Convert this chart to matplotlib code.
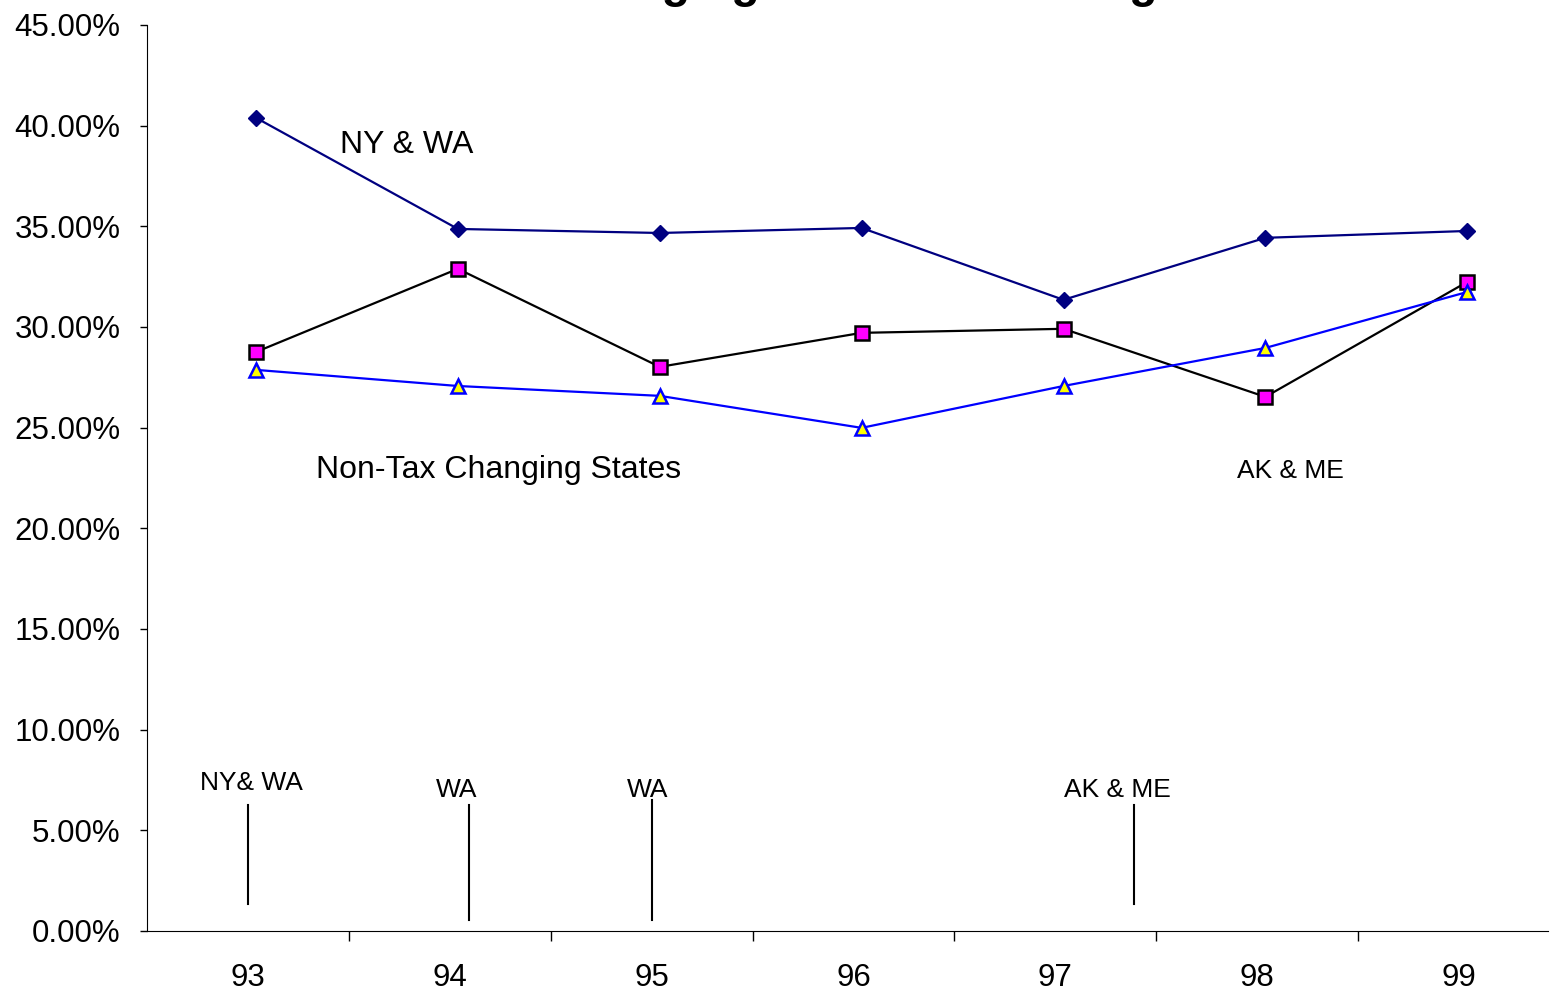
import numpy as np
import matplotlib
matplotlib.use("Agg")
import matplotlib.pyplot as plt
from matplotlib.ticker import PercentFormatter

plt.rcParams['font.family'] = ['Liberation Sans', 'DejaVu Sans']

anos = ['93', '94', '95', '96', '97', '98', '99']
ny_wa = [40.39, 34.87, 34.67, 34.92, 31.35, 34.43, 34.77]
ak_me = [28.76, 32.89, 28.02, 29.71, 29.91, 26.53, 32.24]
nao_mudaram = [27.87, 27.07, 26.58, 24.99, 27.07, 28.96, 31.74]

# mudancas de imposto marcadas em baixo: (posicao, texto)
mudancas_txt = ['NY& WA', 'WA', 'WA', 'AK & ME']
mudancas_x = [-0.04, 1.054, 1.96, 4.35]

fig = plt.figure(figsize=(15.5, 9.92), dpi=100)
ax = fig.add_axes([147 / 1550, 61 / 992, 1401 / 1550, 906 / 992])

x = np.arange(len(anos))
ax.plot(x, ny_wa, color='#000080', lw=1.6, marker='D', ms=8,
        mfc='#000080', mec='#000080')
ax.plot(x, ak_me, color='black', lw=1.6, marker='s', ms=10,
        mfc='#FF00FF', mec='black', mew=1.8)
ax.plot(x, nao_mudaram, color='#0000FF', lw=1.6, marker='^', ms=10.5,
        mfc='#FFFF00', mec='#0000FF', mew=1.8)

ax.set_xlim(-0.54, 6.40)
ax.set_ylim(0, 45)
ax.set_yticks(np.arange(0, 46, 5))
ax.yaxis.set_major_formatter(PercentFormatter(decimals=2))

ax.set_xticks(x - 0.04)
ax.set_xticklabels(anos)
ax.set_xticks(np.arange(6) + 0.46, minor=True)
ax.tick_params(axis='x', which='major', length=0, pad=23, labelsize=22.5)
ax.tick_params(axis='x', which='minor', length=7, width=1)
ax.tick_params(axis='y', length=5, width=1, pad=14, labelsize=22.5)

ax.spines['top'].set_visible(False)
ax.spines['right'].set_visible(False)

# rotulos das series
ax.text(0.748, 39.05, 'NY & WA', fontsize=23, ha='center', va='center')
ax.text(1.203, 22.9, 'Non-Tax Changing States', fontsize=23, ha='center', va='center')
ax.text(5.124, 22.85, 'AK & ME', fontsize=19, ha='center', va='center')

# linhas verticais com o ano da mudanca
topos = [6.26, 6.26, 6.5, 6.26]
bases = [1.34, 0.55, 0.55, 1.34]
for xm, txt, t, b in zip(mudancas_x, mudancas_txt, topos, bases):
    ax.plot([xm, xm], [b, t], color='black', lw=1.5)
ax.text(-0.025, 7.35, 'NY& WA', fontsize=19, ha='center', va='center')
ax.text(0.995, 7.0, 'WA', fontsize=19, ha='center', va='center')
ax.text(1.94, 7.0, 'WA', fontsize=19, ha='center', va='center')
ax.text(4.267, 7.0, 'AK & ME', fontsize=19, ha='center', va='center')

# titulo cortado no topo da imagem, como no original
fig.text(820 / 1550, 1.003, 'Tax Changing States vs. Average', fontsize=33.5,
         fontweight='bold', ha='center', va='baseline')

fig.savefig('out.png', dpi=100)
